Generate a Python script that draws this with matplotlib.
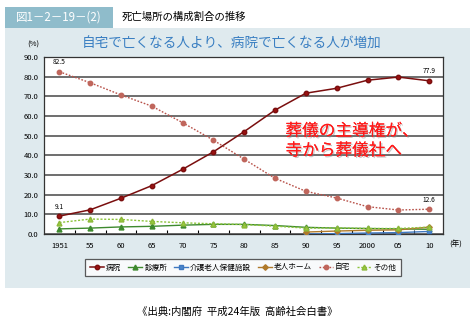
import matplotlib
matplotlib.use("Agg")
import matplotlib.pyplot as plt
import matplotlib.patheffects as pe
from matplotlib.patches import Rectangle
import numpy as np

plt.rcParams['font.family'] = ['Noto Sans CJK JP', 'DejaVu Sans']

years = ["1951", "55", "60", "65", "70", "75", "80", "85", "90", "95", "2000", "05", "10"]
hospital = [9.1, 12.3, 18.2, 24.6, 32.9, 41.8, 52.1, 63.0, 71.6, 74.1, 78.2, 79.8, 77.9]
clinic = [2.6, 3.0, 3.6, 3.9, 4.5, 4.9, 4.9, 4.3, 3.4, 3.0, 2.8, 2.6, 2.4]
care_facility = [None] * 8 + [0.0, 0.2, 0.5, 0.7, 1.3]
nursing_home = [None] * 8 + [1.0, 1.5, 1.9, 2.1, 3.5]
home = [82.5, 76.9, 70.7, 65.0, 56.6, 47.7, 38.0, 28.3, 21.7, 18.3, 13.9, 12.2, 12.6]
other = [5.8, 7.6, 7.4, 6.4, 5.7, 5.2, 4.8, 4.0, 3.0, 3.1, 2.8, 2.8, 3.5]
yticks = [0, 10, 20, 30, 40, 50, 60, 70, 80, 90]

W, H = 475, 328
fig = plt.figure(figsize=(W / 100, H / 100), dpi=100)
fig.patch.set_facecolor("white")

def fx(px):
    return px / W

def fy(py):
    return 1 - py / H

# background panel
fig.patches.append(Rectangle((fx(5), fy(288)), fx(465), (288 - 28) / H,
                             transform=fig.transFigure, facecolor="#dfeaee",
                             edgecolor="none", zorder=-10))
# header box
fig.patches.append(Rectangle((fx(5), fy(28)), fx(108), 21 / H,
                             transform=fig.transFigure, facecolor="#8fbccb",
                             edgecolor="none", zorder=-10))
fig.text(fx(59), fy(17.5), "図1－2－19－(2)", color="white", fontsize=8.3,
         ha="center", va="center")
fig.text(fx(122), fy(17), "死亡場所の構成割合の推移", color="black", fontsize=7.5,
         ha="left", va="center")
fig.text(fx(232), fy(44), "自宅で亡くなる人より、病院で亡くなる人が増加",
         color="#3a7fc2", fontsize=9.8, ha="center", va="center")

ax = fig.add_axes([fx(44), fy(234), fx(443 - 44), (234 - 57) / H])
ax.set_facecolor("white")
x = np.arange(len(years))

def series(vals):
    return np.array([np.nan if v is None else v for v in vals], dtype=float)

ax.plot(x, series(hospital), color="#7a0e0e", lw=1.1, marker="o", ms=3.2,
        mfc="#9b1111", mec="#7a0e0e", label="病院", zorder=5)
ax.plot(x, series(clinic), color="#3e8a2e", lw=1.0, marker="^", ms=3.5,
        mfc="#3e8a2e", mec="#3e8a2e", label="診療所", zorder=4)
ax.plot(x, series(care_facility), color="#3f78c0", lw=1.0, marker="s", ms=3,
        mfc="#4a86cc", mec="#3f78c0", label="介護老人保健施設", zorder=4)
ax.plot(x, series(nursing_home), color="#b07a2a", lw=1.0, marker="D", ms=2.8,
        mfc="#b07a2a", mec="#b07a2a", label="老人ホーム", zorder=4)
ax.plot(x, series(home), color="#b8524a", lw=1.0, ls=(0, (1.2, 1.2)), marker="o",
        ms=3.2, mfc="#c0665c", mec="#c0665c", label="自宅", zorder=5)
ax.plot(x, series(other), color="#8cc43a", lw=1.0, ls=(0, (1.5, 1.2)), marker="^",
        ms=3.5, mfc="#9acd3a", mec="#8cb83a", label="その他", zorder=4)

ax.set_xlim(-0.5, len(years) - 0.55)
ax.set_ylim(0, 90)
ax.set_yticks(yticks)
ax.set_yticklabels([f"{v:.1f}" for v in yticks], fontsize=5.5)
ax.set_xticks(x)
ax.set_xticklabels(years, fontsize=5.5)
ax.set_xticks(x[:-1] + 0.5, minor=True)
ax.tick_params(axis="x", which="major", length=0, pad=6)
ax.tick_params(axis="x", which="minor", length=3, direction="in", width=0.8)
ax.tick_params(axis="y", length=0, pad=4)
ax.grid(axis="y", color="#555555", lw=1.2)
ax.set_axisbelow(True)
for s in ax.spines.values():
    s.set_color("#333333")
    s.set_linewidth(0.9)

# value labels
ax.annotate(f"{home[0]}", (x[0], home[0]), xytext=(0, 4), textcoords="offset points",
            ha="center", va="bottom", fontsize=4.8)
ax.annotate(f"{hospital[0]}", (x[0], hospital[0]), xytext=(0, 4), textcoords="offset points",
            ha="center", va="bottom", fontsize=4.8)
ax.annotate(f"{hospital[-1]}", (x[-1], hospital[-1]), xytext=(0, 4), textcoords="offset points",
            ha="center", va="bottom", fontsize=4.8)
ax.annotate(f"{home[-1]}", (x[-1], home[-1]), xytext=(0, 4), textcoords="offset points",
            ha="center", va="bottom", fontsize=4.8)

fig.text(fx(33), fy(45), "(%)", fontsize=5.5, ha="center", va="center")
fig.text(fx(456), fy(245), "(年)", fontsize=5.5, ha="center", va="center")

# red annotation
ax.text(0.605, 0.525, "葬儀の主導権が、\n寺から葬儀社へ", transform=ax.transAxes,
        color="#ff1a1a", fontsize=12, ha="left", va="center", linespacing=1.2,
        zorder=6,
        path_effects=[pe.withSimplePatchShadow(offset=(1.0, -1.0), shadow_rgbFace="#888888", alpha=0.45),
                      pe.Normal()])

leg = fig.legend(loc="center", bbox_to_anchor=(fx(243), fy(267.5)), ncol=6,
                 fontsize=5.5, frameon=True, fancybox=False, handlelength=1.8,
                 columnspacing=0.9, handletextpad=0.3, borderpad=0.6)
leg.get_frame().set_edgecolor("#333333")
leg.get_frame().set_linewidth(0.9)

fig.text(fx(237), fy(312), "《出典:内閣府  平成24年版  高齢社会白書》", fontsize=7.5,
         ha="center", va="center")

fig.savefig("out.png", dpi=100)
